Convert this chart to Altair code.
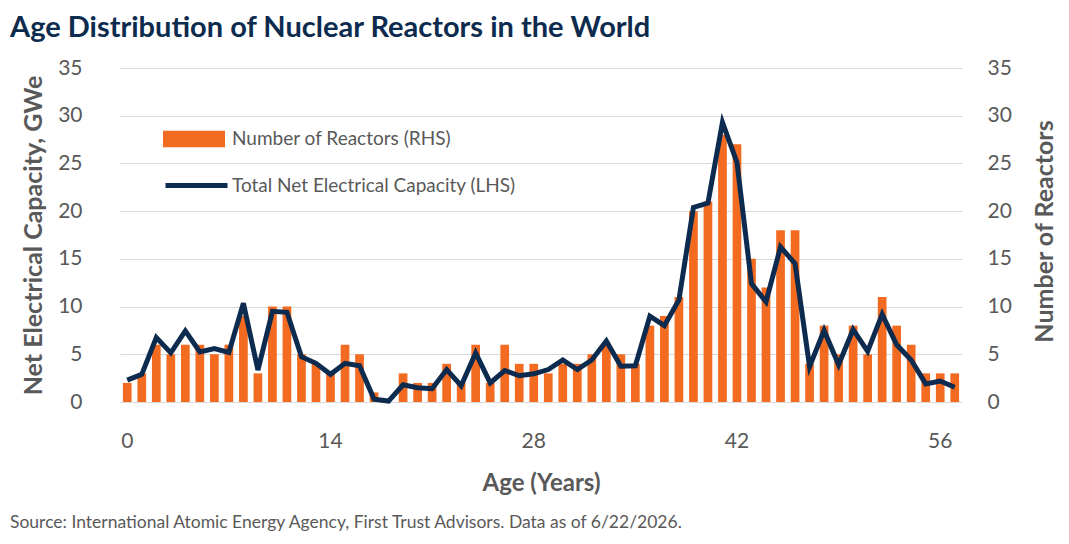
import pandas as pd
import altair as alt

# ages 0..57, one bar per year of age
ages = list(range(58))

# number of reactors (right axis)
reactors = [2, 3, 6, 5, 6, 6, 5, 6, 9, 3,
            10, 10, 5, 4, 3, 6, 5, 1, 0, 3,
            2, 2, 4, 2, 6, 2, 6, 4, 4, 3,
            4, 4, 5, 6, 5, 4, 8, 9, 11, 20,
            21, 28, 27, 15, 12, 18, 18, 4, 8, 5,
            8, 5, 11, 8, 6, 3, 3, 3]

# total net electrical capacity, GWe (left axis)
capacity = [2.3, 2.9, 6.75, 5.15, 7.45, 5.25, 5.6, 5.2, 10.35, 3.35,
            9.5, 9.4, 4.75, 4.05, 2.9, 4.05, 3.8, 0.3, 0.1, 1.8,
            1.5, 1.4, 3.4, 1.7, 5.15, 2.0, 3.3, 2.75, 2.95, 3.4,
            4.4, 3.4, 4.4, 6.4, 3.75, 3.8, 9.0, 8.0, 10.7, 20.4,
            20.85, 29.3, 25.1, 12.4, 10.5, 16.25, 14.5, 3.7, 7.5, 3.9,
            7.6, 5.3, 9.2, 6.0, 4.4, 1.9, 2.2, 1.55]

x_ticks = [0, 14, 28, 42, 56]
y_ticks = [0, 5, 10, 15, 20, 25, 30, 35]

title_text = "Age Distribution of Nuclear Reactors in the World"
source_note = "Source: International Atomic Energy Agency, First Trust Advisors. Data as of 6/22/2026."

df = pd.DataFrame({"age": ages, "reactors": reactors, "capacity": capacity})

ORANGE = "#F26B21"
NAVY = "#0D2B4E"
GREY = "#595959"
FONT = "Lato"

W, H = 842, 334

base = alt.Chart(df).encode(
    x=alt.X("age:O",
            scale=alt.Scale(paddingInner=0.4, paddingOuter=0.2),
            axis=alt.Axis(values=x_ticks, labelAngle=0, ticks=False, domain=False,
                          labelPadding=28, labelFontSize=21, labelColor=GREY,
                          titleFontSize=24, titleFontWeight="bold", titleColor=GREY,
                          titleX=W / 2, titleY=81, titleBaseline="middle"),
            title="Age (Years)")
)

bars = base.mark_bar().transform_calculate(
    series="'Number of Reactors (RHS)'"
).encode(
    y=alt.Y("reactors:Q", scale=alt.Scale(domain=[0, 35]),
            axis=alt.Axis(orient="right", values=y_ticks, grid=False, domain=False, ticks=False,
                          labelPadding=25, labelFontSize=21, labelColor=GREY,
                          titleFontSize=25, titleFontWeight="bold", titleColor=GREY,
                          titleAngle=270, titleX=82, titleY=H / 2 - 4,
                          titleAlign="center", titleBaseline="middle"),
            title="Number of Reactors"),
    color=alt.Color("series:N", scale=alt.Scale(range=[ORANGE]),
                    legend=alt.Legend(title=None, orient="none", legendX=43, legendY=40,
                                      padding=0, symbolType="M-1,-0.27L1,-0.27L1,0.27L-1,0.27Z",
                                      symbolSize=3844, symbolOpacity=1, symbolStrokeWidth=0,
                                      labelFontSize=19, labelColor=GREY, labelOffset=7,
                                      labelLimit=400)),
)

line = base.mark_line(strokeWidth=5, strokeJoin="miter").transform_calculate(
    series="'Total Net Electrical Capacity (LHS)'"
).encode(
    y=alt.Y("capacity:Q", scale=alt.Scale(domain=[0, 35]),
            axis=alt.Axis(orient="left", values=y_ticks, grid=True, gridColor="#D9D9D9",
                          domain=False, ticks=False,
                          labelPadding=38, labelFontSize=21, labelColor=GREY,
                          titleFontSize=25, titleFontWeight="bold", titleColor=GREY,
                          titleAngle=270, titleX=-87, titleY=H / 2,
                          titleAlign="center", titleBaseline="middle"),
            title="Net Electrical Capacity, GWe"),
    color=alt.Color("series:N", scale=alt.Scale(range=[NAVY]),
                    legend=alt.Legend(title=None, orient="none", legendX=43, legendY=84,
                                      padding=0, symbolType="M-1,0L1,0",
                                      symbolSize=3844, symbolStrokeWidth=5,
                                      labelFontSize=19, labelColor=GREY, labelOffset=2,
                                      labelLimit=400)),
)

note = alt.Chart(pd.DataFrame({"note": [source_note]})).mark_text(
    align="left", baseline="middle", fontSize=17.5, font=FONT, color=GREY
).encode(text="note:N", x=alt.value(-110), y=alt.value(455))

chart = alt.layer(bars, line, note).resolve_scale(
    y="independent", color="independent"
).properties(
    width=W,
    height=H,
    autosize=alt.AutoSizeParams(type="none"),
    padding={"left": 112, "top": 60, "right": 99, "bottom": 136},
    title=alt.Title(title_text, anchor="start", frame="group", dx=-110, offset=14, fontSize=29,
                    font=FONT, fontWeight="bold", color=NAVY),
).configure(
    font=FONT
).configure_view(
    stroke=None
).configure_axis(
    labelFont=FONT, titleFont=FONT
).configure_legend(
    labelFont=FONT
)

chart.save("out.html", embed_options={"renderer": "svg", "actions": False})
